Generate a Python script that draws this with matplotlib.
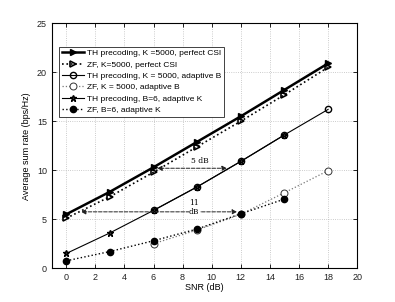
import matplotlib
matplotlib.use('Agg')
import matplotlib.pyplot as plt
import numpy as np

plt.rcParams['font.family'] = ['Liberation Sans', 'DejaVu Sans']

snr_full = [0, 3, 6, 9, 12, 15, 18]
th_perfect = [5.5, 7.8, 10.3, 12.9, 15.5, 18.2, 20.9]
zf_perfect = [5.1, 7.3, 9.8, 12.4, 15.0, 17.7, 20.5]

snr_b = [6, 9, 12, 15, 18]
th_adapt_b = [5.9, 8.3, 10.9, 13.6, 16.2]
zf_adapt_b = [2.5, 3.9, 5.5, 7.7, 9.95]

snr_k = [0, 3, 6, 9, 12, 15]
th_adapt_k = [1.5, 3.6, 5.9, 8.3, 10.9, 13.6]
zf_adapt_k = [0.75, 1.7, 2.8, 4.0, 5.55, 7.05]

fig = plt.figure(figsize=(3.95, 3.02), dpi=100)
ax = fig.add_axes([0.131, 0.112, 0.773, 0.811])

ax.plot(snr_full, th_perfect, '-', color='k', lw=1.8, marker='>', ms=5,
        mfc='k', mec='k', label='TH precoding, K =5000, perfect CSI')
ax.plot(snr_full, zf_perfect, ':', color='k', lw=1.2, marker='>', ms=5,
        mfc='none', mec='k', mew=1.2, label='ZF, K=5000, perfect CSI')
ax.plot(snr_b, th_adapt_b, '-', color='k', lw=0.8, marker='o', ms=4.5,
        mfc='none', mec='k', label='TH precoding, K = 5000, adaptive B')
ax.plot(snr_b, zf_adapt_b, ':', color='#777777', lw=0.9, marker='o', ms=5,
        mfc='white', mec='#333333', mew=0.7, label='ZF, K = 5000, adaptive B')
ax.plot(snr_k, th_adapt_k, '-', color='k', lw=0.8, marker='*', ms=4.5,
        mfc='#333333', mec='k', label='TH precoding, B=6, adaptive K')
ax.plot(snr_k, zf_adapt_k, ':', color='k', lw=1.0, marker='o', ms=4.5,
        mfc='k', mec='k', label='ZF, B=6, adaptive K')

# gain arrows
ax.annotate('', xy=(6.25, 10.2), xytext=(11.05, 10.2),
            arrowprops=dict(arrowstyle='<|-|>', ls='--', lw=0.7, color='#222222',
                            mutation_scale=7, shrinkA=0, shrinkB=0))
ax.text(9.2, 10.55, '5 dB', fontsize=5.5, family='DejaVu Serif', ha='center', va='bottom')
ax.annotate('', xy=(1.0, 5.75), xytext=(11.75, 5.75),
            arrowprops=dict(arrowstyle='<|-|>', ls='--', lw=0.7, color='#222222',
                            mutation_scale=7, shrinkA=0, shrinkB=0))
ax.text(8.8, 6.2, '11', fontsize=5.5, family='DejaVu Serif', ha='center', va='bottom')
ax.text(8.8, 5.75, 'dB', fontsize=5.5, family='DejaVu Serif', ha='center', va='center',
        bbox=dict(fc='white', ec='none', pad=0.3))

ax.set_xlim(-1, 20)
ax.set_ylim(0, 25)
ax.set_xticks(np.arange(0, 21, 2))
ax.set_yticks(np.arange(0, 26, 5))
ax.tick_params(labelsize=6.5, direction='in', length=3, width=0.6,
               top=True, right=True, labelcolor='#222222')
ax.grid(True, ls=':', color='#bbbbbb', lw=0.6)
for s in ax.spines.values():
    s.set_linewidth(0.8)
ax.set_xlabel('SNR (dB)', fontsize=6.5, labelpad=1)
ax.set_ylabel('Average sum rate (bps/Hz)', fontsize=6.5, labelpad=4)

leg = ax.legend(loc='upper left', bbox_to_anchor=(0.01, 0.922), fontsize=6,
                frameon=True, fancybox=False, edgecolor='#222222', framealpha=1,
                borderpad=0.35, labelspacing=0.42, handlelength=2.6, handletextpad=0.4)
leg.get_frame().set_linewidth(0.6)

fig.savefig('out.png', dpi=100)
